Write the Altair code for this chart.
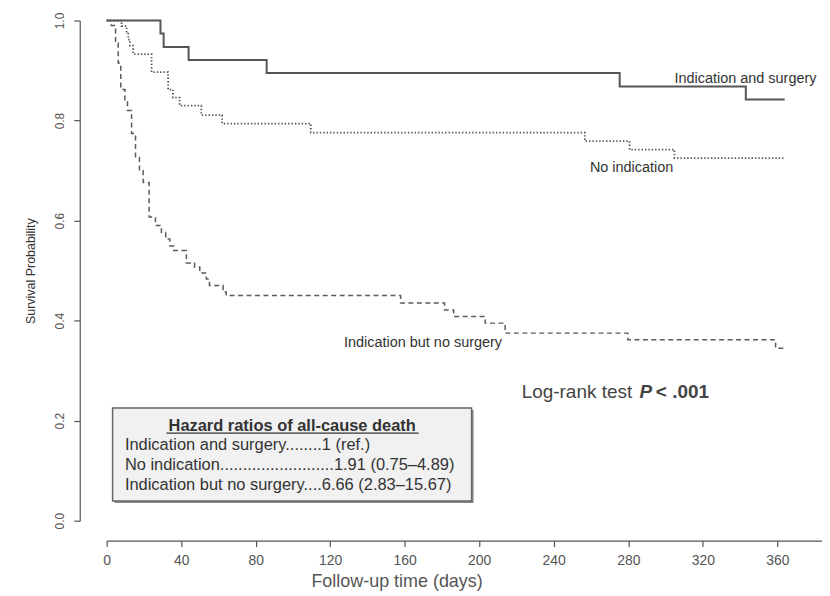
import altair as alt
import pandas as pd

# ---- Kaplan-Meier step data (days, survival probability) ----
groups = ["Indication and surgery", "No indication", "Indication but no surgery"]

surgery_days = [0, 28.9, 30.6, 44.0, 85.9, 275.4, 343.1, 364.0]
surgery_surv = [1.0, 0.974, 0.947, 0.921, 0.895, 0.868, 0.842, 0.842]

noind_days = [0, 8.0, 10.7, 11.6, 12.5, 14.2, 24.1, 33.0, 35.6, 39.2, 50.8, 62.0,
              109.6, 256.7, 280.7, 304.8, 364.0]
noind_surv = [1.0, 0.989, 0.976, 0.962, 0.950, 0.933, 0.897, 0.862, 0.846, 0.830,
              0.811, 0.794, 0.776, 0.759, 0.742, 0.725, 0.725]

nosurg_days = [0, 2.5, 4.8, 6.2, 7.6, 9.8, 11.2, 13.4, 15.5, 17.6, 19.6, 22.8, 26.2,
               29.4, 31.7, 33.9, 36.0, 42.8, 47.2, 50.0, 53.5, 55.2, 62.5, 64.2,
               157.8, 181.4, 186.3, 203.2, 213.9, 279.8, 359.1, 364.5]
nosurg_surv = [1.0, 0.990, 0.955, 0.915, 0.862, 0.839, 0.820, 0.774, 0.726, 0.700,
               0.676, 0.607, 0.590, 0.576, 0.563, 0.549, 0.540, 0.515, 0.507, 0.495,
               0.483, 0.470, 0.457, 0.450, 0.435, 0.421, 0.408, 0.395, 0.375, 0.362,
               0.345, 0.345]

x_ticks = [0, 40, 80, 120, 160, 200, 240, 280, 320, 360]
y_ticks = [0.0, 0.2, 0.4, 0.6, 0.8, 1.0]

# ---- annotation texts ----
curve_labels = ["Indication and surgery", "No indication", "Indication but no surgery"]
curve_label_days = [304.8, 259.4, 127.4]
curve_label_surv = [0.8755, 0.698, 0.348]

logrank_parts = ["Log-rank test", "P", "< .001"]
logrank_days = [222.8, 286.1, 294.8]
logrank_surv = [0.245, 0.245, 0.245]

hr_title = "Hazard ratios of all-cause death"
hr_rows = ["Indication and surgery........1 (ref.)",
           "No indication.........................1.91 (0.75\u20134.89)",
           "Indication but no surgery....6.66 (2.83\u201315.67)"]
hr_row_surv = [0.1404, 0.1006, 0.0608]
hr_row_day = 9.8
box_days = [3.2, 195.9]
box_surv = [0.0394, 0.2255]
hr_title_day = 99.6
hr_title_surv = 0.180
underline_days = [32.1, 167.5]
underline_surv = 0.175

# ---- build tables ----
rows = []
for g, ds, ss in zip(groups, [surgery_days, noind_days, nosurg_days],
                     [surgery_surv, noind_surv, nosurg_surv]):
    for d, s in zip(ds, ss):
        rows.append({"group": g, "day": d, "surv": s})
km = pd.DataFrame(rows)

FONT = "Liberation Sans"
AX = "#555555"
TXT = "#333333"

x_axis = alt.Axis(values=x_ticks, title="Follow-up time (days)", offset=20, grid=False,
                  tickSize=6, domainColor=AX, tickColor=AX, domainWidth=1.2, tickWidth=1.2,
                  labelColor=AX, labelFont=FONT, labelFontSize=14, labelPadding=7,
                  labelFlush=False,
                  titleFont=FONT, titleFontSize=18, titleFontWeight="normal", titleColor=AX,
                  titleX=291, titleY=46, titleAlign="center", titleBaseline="alphabetic")
y_axis = alt.Axis(values=y_ticks, format=".1f", title="Survival Probability", offset=27,
                  grid=False, tickSize=6, domainColor=AX, tickColor=AX, domainWidth=1.2,
                  tickWidth=1.2, labelAngle=270, labelAlign="center", labelBaseline="bottom",
                  labelPadding=7, labelColor=AX, labelFont=FONT, labelFontSize=12,
                  labelFlush=False,
                  titleFont=FONT, titleFontSize=12.5, titleFontWeight="normal", titleColor=TXT,
                  titlePadding=16)

xs = alt.Scale(domain=[0, 384], nice=False, zero=False)
ys = alt.Scale(domain=[0, 1], nice=False, zero=False)

def X(field="day"):
    return alt.X(f"{field}:Q", scale=xs, axis=x_axis)

def Y(field="surv"):
    return alt.Y(f"{field}:Q", scale=ys, axis=y_axis)

base = alt.Chart(km)
line_surg = base.transform_filter(alt.datum.group == groups[0]).mark_line(
    interpolate="step-after", color="#555555", strokeWidth=2).encode(x=X(), y=Y())
line_noind = base.transform_filter(alt.datum.group == groups[1]).mark_line(
    interpolate="step-after", color="#555555", strokeWidth=1.8, strokeDash=[1.4, 2.0]).encode(x=X(), y=Y())
line_nosurg = base.transform_filter(alt.datum.group == groups[2]).mark_line(
    interpolate="step-after", color="#5a5a5a", strokeWidth=1.5, strokeDash=[5, 3.5]).encode(x=X(), y=Y())

lab_df = pd.DataFrame({"day": curve_label_days, "surv": curve_label_surv, "label": curve_labels})
labels = alt.Chart(lab_df).mark_text(align="left", baseline="alphabetic", font=FONT,
                                     fontSize=14.5, color=TXT).encode(x=X(), y=Y(), text="label:N")

lr = []
styles = [("normal", "normal"), ("bold", "italic"), ("bold", "normal")]
for part, d, s, (fw, fs) in zip(logrank_parts, logrank_days, logrank_surv, styles):
    df = pd.DataFrame({"day": [d], "surv": [s], "label": [part]})
    lr.append(alt.Chart(df).mark_text(align="left", baseline="alphabetic", font=FONT,
                                      fontSize=19, color="#444444", fontWeight=fw,
                                      fontStyle=fs).encode(x=X(), y=Y(), text="label:N"))

# box with shadow
px_day = 1 / 1.87
px_surv = 1 / 502
shadow_df = pd.DataFrame({"day": [box_days[0] + 2 * px_day], "day2": [box_days[1] + 2 * px_day],
                          "surv": [box_surv[0] - 2 * px_surv], "surv2": [box_surv[1] - 2 * px_surv]})
shadow = alt.Chart(shadow_df).mark_rect(color="#8a8a8a").encode(
    x=X(), x2="day2:Q", y=Y(), y2="surv2:Q")
box_df = pd.DataFrame({"day": [box_days[0]], "day2": [box_days[1]],
                       "surv": [box_surv[0]], "surv2": [box_surv[1]]})
box = alt.Chart(box_df).mark_rect(fill="#f1f1f1", stroke="#666666", strokeWidth=1.5).encode(
    x=X(), x2="day2:Q", y=Y(), y2="surv2:Q")

title_df = pd.DataFrame({"day": [hr_title_day], "surv": [hr_title_surv], "label": [hr_title]})
hr_head = alt.Chart(title_df).mark_text(align="center", baseline="alphabetic", font=FONT,
                                        fontSize=16.5, fontWeight="bold", color=TXT).encode(
    x=X(), y=Y(), text="label:N")
ul_df = pd.DataFrame({"day": [underline_days[0]], "day2": [underline_days[1]], "surv": [underline_surv]})
underline = alt.Chart(ul_df).mark_rule(color=TXT, strokeWidth=1.3).encode(x=X(), x2="day2:Q", y=Y())

rows_df = pd.DataFrame({"day": [hr_row_day] * 3, "surv": hr_row_surv, "label": hr_rows})
hr_text = alt.Chart(rows_df).mark_text(align="left", baseline="alphabetic", font=FONT,
                                       fontSize=16.5, color=TXT).encode(x=X(), y=Y(), text="label:N")

chart = alt.layer(line_surg, line_noind, line_nosurg, labels, *lr, shadow, box, hr_head,
                  underline, hr_text).properties(
    width=718, height=502,
    padding={"left": 99, "top": 11.5, "right": 0, "bottom": 70},
    autosize=alt.AutoSizeParams(type="none"),
    background="white",
).configure_view(stroke=None)

chart.save("out.html", embed_options={"renderer": "svg", "actions": False})
